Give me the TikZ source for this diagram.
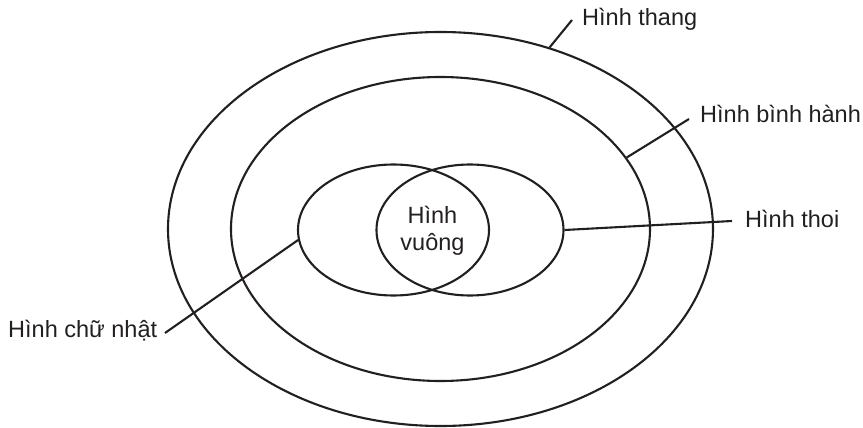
\documentclass[tikz,border=0pt]{standalone}
\usepackage{fontspec}
\setmainfont{Liberation Sans}
\usetikzlibrary{shapes.geometric}
\definecolor{ink}{RGB}{35,31,32}
\begin{document}
\begin{tikzpicture}[x=1pt,y=-1pt,
  ring/.style={draw=ink, line width=2.1pt, ellipse, inner sep=0pt},
  lead/.style={draw=ink, line width=2.1pt},
  lbl/.style={anchor=base west, inner sep=0pt, text=ink, font=\fontsize{23.5}{27}\selectfont}]
\useasboundingbox (0,0) rectangle (863,428);
% ellipses
\node[ring, minimum width=545pt, minimum height=394pt] (trap) at (440.5,229) {};
\node[ring, minimum width=419pt, minimum height=304pt] (para) at (440.5,229) {};
\node[ring, minimum width=191pt, minimum height=131pt] (rect) at (393.5,230) {};
\node[ring, minimum width=187pt, minimum height=131pt] (rhom) at (470,230) {};
% centre text
\node[align=center, inner sep=0pt, text=ink, font=\fontsize{23.5}{27}\selectfont] (sq) at (432.5,230.5) {Hình\\vuông};
% labels
\node[lbl] (ltrap) at (582,26) {Hình thang};
\node[lbl] (lpara) at (700,122) {Hình bình hành};
\node[lbl] (lrhom) at (745,227) {Hình thoi};
\node[lbl] (lrect) at (8,337) {Hình chữ nhật};
% free ends of leaders
\coordinate (etrap) at (572,20);
\coordinate (epara) at (689,119);
\coordinate (erhom) at (732,221);
\coordinate (erect) at (165,333);
% leaders
\draw[lead] (trap.59.7) -- (etrap);
\draw[lead] (para.21.6) -- (epara);
\draw[lead] (rhom.0.6) -- (erhom);
\draw[lead] (rect.186.7) -- (erect);
\end{tikzpicture}
\end{document}
